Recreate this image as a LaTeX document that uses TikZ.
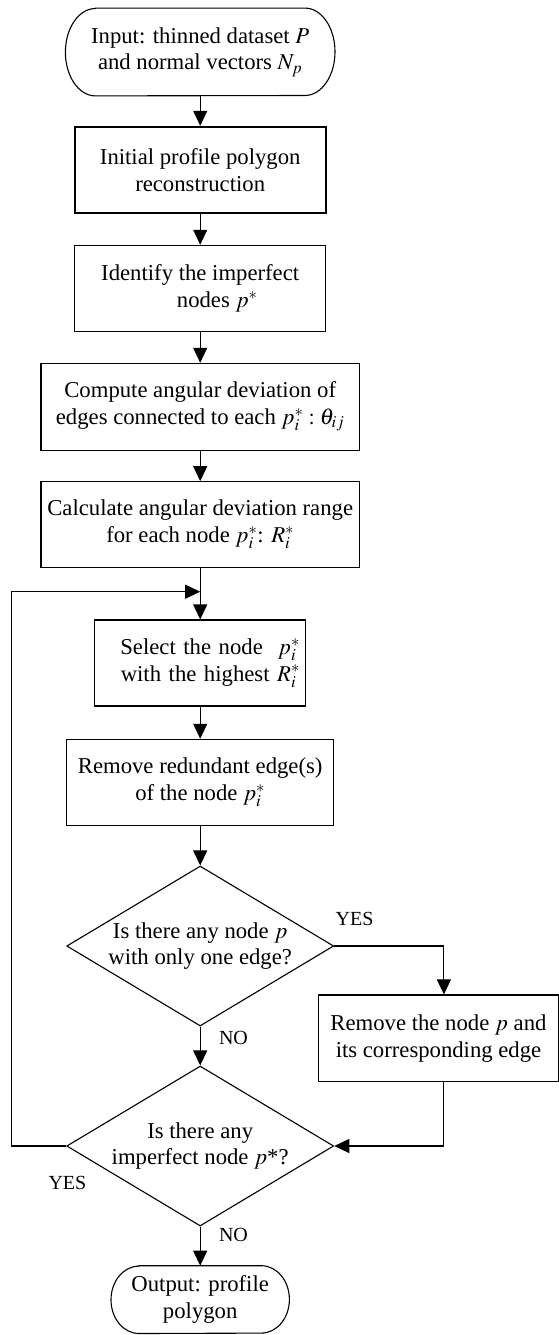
\documentclass[tikz,border=0pt]{standalone}
\usepackage{mathptmx}
\usepackage[no-math]{fontspec}
\setmainfont{Liberation Serif}
\usetikzlibrary{arrows.meta,shapes.geometric}
\begin{document}
\begin{tikzpicture}[x=1pt,y=1pt,
  every node/.style={font=\fontsize{22.7}{26.7}\selectfont},
  box/.style={draw, line width=1.1pt, rectangle, inner sep=0pt, align=center},
  term/.style={inner sep=0pt, align=center},
  dec/.style={draw, line width=1.1pt, diamond, aspect=1.67, inner sep=0pt,
              minimum width=267pt, minimum height=160pt, align=center},
  lab/.style={font=\fontsize{20}{22}\selectfont, inner sep=0pt},
  conn/.style={line width=1.1pt, -{Triangle[length=15pt,width=14pt]}},
  plain/.style={line width=1.1pt}
]
\path[use as bounding box, fill=white] (0,0) rectangle (559,-1335);

% start terminal
\node[term, minimum width=269.2pt, minimum height=87.4pt] (t1) at (200.2,-52)
  {Input: thinned dataset $P$\\and normal vectors $N_p$};
\draw[plain] ([xshift=30pt]t1.north west) -- ([xshift=-30pt]t1.north east)
  arc[start angle=90,end angle=-90,x radius=30pt,y radius=43.7pt]
  -- ([xshift=30pt]t1.south west)
  arc[start angle=270,end angle=90,x radius=30pt,y radius=43.7pt] -- cycle;

\node[box, line width=1.8pt, minimum width=251pt, minimum height=86.6pt] (b2) at (200.2,-170)
  {Initial profile polygon\\reconstruction};
\node[box, minimum width=251pt, minimum height=86.4pt] (b3) at (200.2,-288.5)
  {Identify the imperfect\\\hspace*{1.5em}nodes $p^{*}$};
\node[box, minimum width=318.4pt, minimum height=86.7pt] (b4) at (200.2,-406.7)
  {Compute angular deviation of\\edges connected to each $p_i^{*}:\theta_{ij}$};
\node[box, minimum width=318.4pt, minimum height=86pt] (b5) at (200.2,-524.7)
  {Calculate angular deviation range\\for each node $p_i^{*}$: $R_i^{*}$};
\node[box, align=right, inner xsep=6pt, text width=199.4pt, minimum height=86pt] (b6) at (200.2,-663)
  {Select the node~ $p_i^{*}$\\with the highest $R_i^{*}$};
\node[box, minimum width=267.3pt, minimum height=86.4pt] (b7) at (200.2,-782.5)
  {Remove redundant edge(s)\\of the node $p_i^{*}$};
\node[dec] (d1) at (200.2,-946)
  {Is there any node $p$\\with only one edge?};
\node[box, minimum width=239.6pt, minimum height=86.7pt] (b8) at (438.5,-1038.3)
  {Remove the node $p$ and\\its corresponding edge};
\node[dec] (d2) at (200.2,-1146)
  {Is there any\\imperfect node $p$*?};

% end terminal
\node[term, minimum width=178pt, minimum height=67.4pt] (t2) at (200.2,-1299.6)
  {Output: profile\\polygon};
\draw[plain] ([xshift=28pt]t2.north west) -- ([xshift=-28pt]t2.north east)
  arc[start angle=90,end angle=-90,x radius=28pt,y radius=33.7pt]
  -- ([xshift=28pt]t2.south west)
  arc[start angle=270,end angle=90,x radius=28pt,y radius=33.7pt] -- cycle;

% labels
\node[lab] (yes1) at (354.5,-919) {YES};
\node[lab] (no1) at (233.5,-1038.3) {NO};
\node[lab] (yes2) at (67.4,-1182.7) {YES};
\node[lab] (no2) at (233.5,-1235) {NO};

% helper coordinates
\coordinate (m) at (200.2,-591.7);
\coordinate (lc) at (11.8,-591.7);
\coordinate (r1) at (443.9,-946);

% connectors
\draw[conn] (t1.south) -- (b2.north);
\draw[conn] (b2.south) -- (b3.north);
\draw[conn] (b3.south) -- (b4.north);
\draw[conn] (b4.south) -- (b5.north);
\draw[conn] (b5.south) -- (b6.north);
\draw[conn] (b6.south) -- (b7.north);
\draw[conn] (b7.south) -- (d1.north);
\draw[conn] (d1.east) -- (r1) -- (r1 |- b8.north);
\draw[conn] (d1.south) -- (d2.north);
\draw[conn] (b8.south -| r1) |- (d2.east);
\draw[conn] (d2.west) -- (lc |- d2.west) -- (lc) -- (m);
\draw[conn] (d2.south) -- (t2.north);
\end{tikzpicture}
\end{document}
